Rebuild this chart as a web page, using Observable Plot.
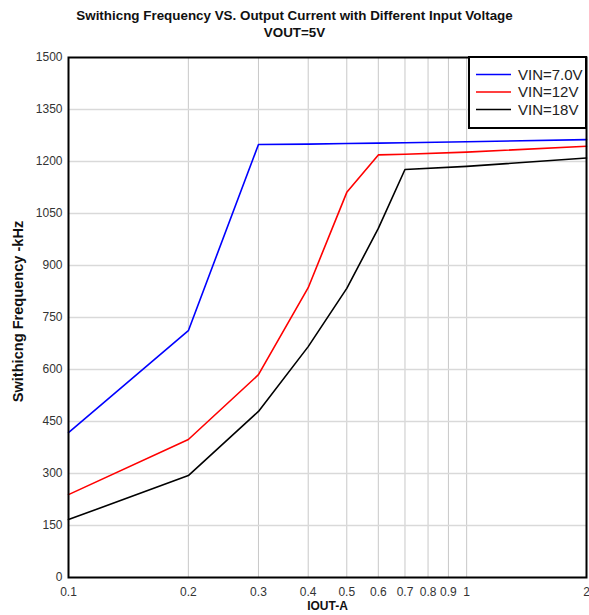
<!DOCTYPE html>
<html><head><meta charset="utf-8">
<script src="https://cdn.jsdelivr.net/npm/d3@7"></script>
<script src="https://cdn.jsdelivr.net/npm/@observablehq/plot@0.6"></script>
<style>body{margin:0;background:#fff;font-family:"Liberation Sans",Arial,sans-serif;}</style>
</head><body><div id="chart"></div>
<script>
const iout = [0.1, 0.2, 0.3, 0.4, 0.5, 0.6, 0.7, 1, 2];
const vin7 = [418, 712, 1249, 1250, 1252, 1253, 1254, 1257, 1263];
const vin12 = [239, 398, 585, 836, 1111, 1219, 1221, 1227, 1244];
const vin18 = [167, 294, 479, 666, 834, 1007, 1177, 1186, 1210];
const seriesNames = ["VIN=7.0V", "VIN=12V", "VIN=18V"];
const seriesColors = ["#0000ff", "#ff0000", "#000000"];
const xTicks = [0.1, 0.2, 0.3, 0.4, 0.5, 0.6, 0.7, 0.8, 0.9, 1, 2];
const yTicks = [0, 150, 300, 450, 600, 750, 900, 1050, 1200, 1350, 1500];
const title1 = "Swithicng Frequency VS. Output Current with Different Input Voltage";
const title2 = "VOUT=5V";
const xLabel = "IOUT-A";
const yLabel = "Swithicng Frequency -kHz";

const allSeries = [vin7, vin12, vin18];
const data = [];
allSeries.forEach((vals, s) => iout.forEach((x, i) => data.push({x, y: vals[i], s: seriesNames[s]})));

const legendMark = (index, scales, values, dims) => {
  const g = d3.create("svg:g");
  const w = 117, h = 71;
  const x0 = dims.width - dims.marginRight - w, y0 = dims.marginTop;
  g.append("rect").attr("x", x0).attr("y", y0).attr("width", w).attr("height", h)
    .attr("fill", "white").attr("stroke", "black").attr("stroke-width", 2);
  seriesNames.forEach((n, i) => {
    const yy = y0 + 17.5 + i * 17.5;
    g.append("line").attr("x1", x0 + 7).attr("x2", x0 + 42).attr("y1", yy).attr("y2", yy)
      .attr("stroke", seriesColors[i]).attr("stroke-width", 1.5);
    g.append("text").attr("x", x0 + 49).attr("y", yy).attr("dy", "0.35em")
      .attr("text-anchor", "start")
      .attr("font-size", 15).attr("fill", "#222").text(n);
  });
  return g.node();
};

const chart = Plot.plot({
  width: 589, height: 615,
  marginLeft: 68, marginRight: 3, marginTop: 57, marginBottom: 38,
  style: {fontFamily: '"Liberation Sans", Arial, sans-serif', fontSize: "12px", color: "#222", background: "white"},
  x: {type: "log", domain: [0.1, 2], axis: null},
  y: {domain: [0, 1500], axis: null},
  color: {domain: seriesNames, range: seriesColors},
  marks: [
    Plot.ruleX(xTicks.slice(1, -1), {stroke: "#c8c8c8", strokeWidth: 1, strokeOpacity: 1}),
    Plot.ruleY(yTicks.slice(1, -1), {stroke: "#d9d9d9", strokeWidth: 1.5, strokeOpacity: 1}),
    Plot.line(data, {x: "x", y: "y", z: "s", stroke: "s", strokeWidth: 1.6}),
    Plot.frame({stroke: "black", strokeWidth: 2}),
    Plot.text(xTicks, {x: d => d, frameAnchor: "bottom", lineAnchor: "middle", dy: 15, text: d => String(d), fontSize: 12, fill: "#333"}),
    Plot.text(yTicks, {y: d => d, frameAnchor: "left", textAnchor: "end", lineAnchor: "middle", dx: -6, text: d => String(d), fontSize: 12, fill: "#333"}),
    Plot.text([xLabel], {frameAnchor: "bottom", lineAnchor: "middle", dy: 29, fontWeight: "bold", fontSize: 12, fill: "#111"}),
    Plot.text([yLabel], {frameAnchor: "left", textAnchor: "middle", lineAnchor: "middle", dx: -50, dy: -6, rotate: -90, fontWeight: "bold", fontSize: 14.6, fill: "#111"}),
    Plot.text([title1], {frameAnchor: "top", lineAnchor: "middle", dx: -33, dy: -42, fontWeight: "bold", fontSize: 13.4, fill: "#111"}),
    Plot.text([title2], {frameAnchor: "top", lineAnchor: "middle", dx: -33, dy: -25, fontWeight: "bold", fontSize: 13.4, fill: "#111"}),
    legendMark
  ]
});
document.getElementById("chart").append(chart);
</script></body></html>
